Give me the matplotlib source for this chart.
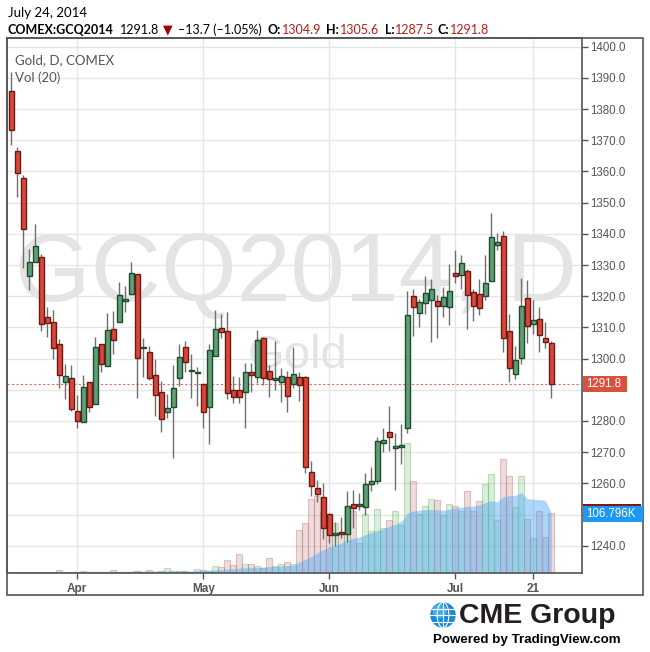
import matplotlib
matplotlib.use("Agg")
import matplotlib.pyplot as plt
from matplotlib.patches import Rectangle, Circle, Ellipse
import numpy as np

plt.rcParams['font.family'] = ['Liberation Sans', 'DejaVu Sans']

# daily OHLC, GCQ2014, Mar 17 .. Jul 24 2014
opens = [1385.9, 1366.4, 1357.8, 1326.4, 1330.9, 1332.5, 1313.2, 1311.6, 1304.6, 1292.4,
         1293.7, 1283.1, 1279.6, 1292.6, 1285.4, 1304.6, 1297.5, 1309.4, 1311.6, 1318.4,
         1320.6, 1327.0, 1303.3, 1302.0, 1294.6, 1289.2, 1283.0, 1284.4, 1293.7, 1303.6,
         1296.1, 1295.3, 1291.8, 1284.4, 1300.7, 1309.7, 1308.8, 1289.8, 1289.8, 1289.2,
         1295.6, 1294.0, 1306.5, 1295.9, 1293.0, 1292.4, 1294.0, 1291.8, 1294.0, 1294.0,
         1263.6, 1258.4, 1255.5, 1250.1, 1243.6, 1244.3, 1243.7, 1253.3, 1252.7, 1252.3,
         1259.7, 1260.7, 1272.9, 1276.4, 1271.5, 1271.6, 1277.7, 1320.0, 1314.5, 1317.7,
         1318.7, 1318.4, 1316.8, 1316.4, 1327.3, 1326.7, 1328.0, 1321.3, 1320.6, 1320.0,
         1324.8, 1336.3, 1339.2, 1308.8, 1295.0, 1300.1, 1319.3, 1311.0, 1312.6, 1306.5,
         1304.9]
highs = [1391.9, 1367.7, 1358.8, 1335.0, 1343.1, 1333.4, 1316.4, 1315.6, 1306.2, 1298.3,
         1297.9, 1288.3, 1294.7, 1292.6, 1307.0, 1304.6, 1314.5, 1315.2, 1324.5, 1323.2,
         1330.9, 1327.0, 1306.5, 1304.0, 1299.9, 1292.8, 1288.7, 1297.9, 1304.6, 1305.6,
         1301.5, 1297.3, 1291.8, 1304.6, 1315.5, 1314.2, 1314.8, 1294.3, 1294.0, 1298.5,
         1298.5, 1309.1, 1306.8, 1297.9, 1305.6, 1296.9, 1295.9, 1303.6, 1295.6, 1294.3,
         1267.1, 1261.0, 1260.0, 1250.4, 1247.5, 1249.1, 1257.5, 1257.8, 1256.8, 1263.2,
         1265.2, 1274.8, 1277.7, 1284.7, 1276.1, 1278.9, 1321.6, 1322.2, 1319.1, 1326.5,
         1325.5, 1320.3, 1322.9, 1330.3, 1334.8, 1333.2, 1328.6, 1322.2, 1325.4, 1333.1,
         1346.6, 1340.2, 1340.8, 1314.2, 1303.9, 1325.7, 1325.1, 1318.7, 1316.4, 1311.6,
         1305.6]
lows = [1368.5, 1351.9, 1329.1, 1322.0, 1330.9, 1308.9, 1307.0, 1299.8, 1290.5, 1287.0,
        1283.3, 1277.9, 1279.6, 1282.8, 1285.4, 1295.8, 1297.5, 1301.4, 1311.6, 1314.8,
        1320.6, 1287.3, 1294.2, 1293.0, 1281.7, 1276.6, 1281.1, 1268.2, 1291.3, 1295.6,
        1287.5, 1284.9, 1277.9, 1272.7, 1300.7, 1306.5, 1287.0, 1285.7, 1285.7, 1277.9,
        1289.2, 1292.1, 1291.4, 1287.8, 1289.8, 1286.0, 1283.0, 1290.5, 1286.5, 1263.2,
        1255.9, 1253.9, 1242.1, 1240.8, 1239.8, 1242.4, 1241.2, 1245.6, 1251.4, 1249.8,
        1257.5, 1259.7, 1270.0, 1270.3, 1257.8, 1266.1, 1276.1, 1307.1, 1310.2, 1314.2,
        1305.4, 1306.7, 1313.2, 1310.9, 1324.1, 1322.2, 1309.4, 1312.0, 1313.9, 1318.7,
        1324.8, 1334.7, 1302.0, 1292.4, 1293.4, 1298.2, 1304.9, 1307.8, 1302.0, 1303.3,
        1287.5]
closes = [1373.3, 1359.4, 1341.4, 1330.9, 1336.0, 1311.0, 1311.3, 1303.3, 1294.6, 1294.3,
          1283.8, 1279.9, 1290.8, 1284.4, 1303.6, 1298.2, 1309.1, 1305.9, 1320.3, 1319.0,
          1327.3, 1300.1, 1303.4, 1293.7, 1288.2, 1280.5, 1284.1, 1290.5, 1300.4, 1298.8,
          1296.3, 1295.6, 1283.0, 1302.7, 1309.4, 1308.4, 1288.9, 1287.6, 1287.6, 1295.6,
          1294.6, 1305.9, 1293.7, 1293.4, 1293.7, 1294.3, 1287.9, 1295.0, 1291.4, 1265.2,
          1259.1, 1256.5, 1245.6, 1243.4, 1243.9, 1243.7, 1252.7, 1252.0, 1253.3, 1259.7,
          1260.7, 1273.5, 1273.8, 1274.8, 1271.7, 1272.2, 1313.9, 1316.4, 1318.0, 1320.9,
          1322.2, 1316.8, 1319.6, 1321.6, 1326.4, 1330.5, 1320.3, 1316.8, 1316.1, 1324.1,
          1338.9, 1337.3, 1306.5, 1296.9, 1299.5, 1316.8, 1310.4, 1312.3, 1307.5, 1305.2,
          1291.8]

# volume in thousands of contracts, and the Vol(20) average line
volume = [1.8, 2.3, 2.3, 2.3, 2.3, 2.3, 2.3, 2.3, 4.8, 1.8,
          1.8, 1.8, 3.0, 1.8, 2.3, 2.3, 2.3, 5.9, 2.3, 1.8,
          2.3, 3.0, 1.8, 5.9, 2.3, 3.0, 9.4, 4.1, 3.0, 4.1,
          2.3, 7.7, 5.3, 3.6, 13.0, 10.7, 23.7, 14.8, 34.4, 16.6,
          16.6, 11.9, 8.4, 26.2, 13.0, 15.5, 19.0, 16.6, 76.0, 88.5,
          131.2, 136.5, 110.4, 85.4, 89.0, 71.2, 118.7, 109.8, 52.9, 104.5,
          74.2, 114.6, 80.8, 95.1, 109.8, 84.9, 232.1, 164.5, 105.7, 120.0,
          132.4, 130.7, 102.7, 123.5, 118.7, 111.1, 145.4, 109.8, 127.6, 159.1,
          175.7, 95.1, 203.6, 172.1, 116.9, 172.1, 96.8, 63.0, 109.8, 64.8,
          106.3]
vol_ma = [2.5, 2.5, 2.5, 2.5, 2.5, 2.5, 2.5, 2.5, 2.5, 2.5,
          2.8, 2.8, 2.8, 2.8, 2.8, 2.8, 2.8, 2.8, 2.8, 2.8,
          3.6, 3.6, 3.6, 3.6, 3.6, 3.6, 3.6, 3.6, 3.6, 3.6,
          3.9, 4.3, 4.6, 5.0, 5.5, 6.0, 6.9, 7.5, 8.7, 9.3,
          10.0, 10.3, 10.5, 11.6, 11.9, 12.5, 13.2, 13.7, 19.6, 24.4,
          29.7, 35.6, 41.5, 46.3, 49.8, 53.4, 58.2, 62.3, 64.1, 68.2,
          71.7, 75.5, 78.9, 83.1, 86.7, 92.0, 106.8, 110.4, 111.6, 112.7,
          112.7, 112.7, 111.6, 113.4, 115.7, 116.9, 118.7, 119.3, 121.0, 125.1,
          128.7, 126.9, 135.3, 137.6, 138.3, 142.9, 132.3, 131.2, 130.5, 129.4,
          106.8]

tick_idx = [11, 32, 53, 74, 87]
tick_labels = ["Apr", "May", "Jun", "Jul", "21"]
price_ticks = list(range(1240, 1410, 10))
hidden_ticks = [1250, 1290]  # covered by the volume / last price labels
last_price = 1291.8
vol_label = "106.796K"

W, H = 650, 652
fig = plt.figure(figsize=(W / 100, H / 100), dpi=100)
fig.patch.set_facecolor("white")


def fx(x):
    return x / W


def fy(y):
    return 1 - y / H


rect = [fx(7), fy(573), fx(582) - fx(7), fy(38) - fy(573)]
xlim = (-0.72, 95.12)
plim = (1231.28, 1402.76)

# bottom layer: grid + watermark
ax_g = fig.add_axes(rect)
ax_g.set_xlim(xlim)
ax_g.set_ylim(plim)
for p in price_ticks:
    ax_g.axhline(p, color="#e6e6e6", lw=1, zorder=0)
for t in tick_idx:
    ax_g.axvline(t, color="#e6e6e6", lw=1, zorder=0)
ax_g.text(0.502, 0.555, "GCQ2014, D", transform=ax_g.transAxes, ha="center", va="center",
          fontsize=70, color="#e4e4e4", zorder=1)
ax_g.text(0.505, 0.405, "Gold", transform=ax_g.transAxes, ha="center", va="center",
          fontsize=34, color="#e4e4e4", zorder=1)
ax_g.axis("off")

# middle layer: volume
x = np.arange(len(closes))
up = np.array(closes) >= np.array(opens)
ax_v = fig.add_axes(rect)
ax_v.patch.set_alpha(0)
ax_v.set_xlim(xlim)
ax_v.set_ylim(0, 952)
ax_v.bar(x[up], np.array(volume)[up], width=1.0, color="#8fc88f", alpha=0.32,
         edgecolor="#5aa05a", linewidth=0.8)
ax_v.bar(x[~up], np.array(volume)[~up], width=1.0, color="#c99494", alpha=0.32,
         edgecolor="#a06060", linewidth=0.8)
ax_v.fill_between(x, vol_ma, color="#4aa8f5", alpha=0.45, lw=0)
ax_v.axis("off")

# top layer: candles
ax = fig.add_axes(rect)
ax.patch.set_alpha(0)
ax.set_xlim(xlim)
ax.set_ylim(plim)
ax.vlines(x, lows, highs, color="#6f6f6f", lw=1, zorder=2)
o = np.array(opens)
c = np.array(closes)
bottoms = np.minimum(o, c)
heights = np.maximum(np.abs(c - o), 0.35)
ax.bar(x[up], heights[up], bottom=bottoms[up], width=0.74, color="#5f9f76",
       edgecolor="#1f4a2c", linewidth=1, zorder=3)
ax.bar(x[~up], heights[~up], bottom=bottoms[~up], width=0.74, color="#d9463a",
       edgecolor="#6a1a14", linewidth=1, zorder=3)
ax.axhline(last_price, color="#e8685a", lw=0.8, ls=(0, (2, 2)), zorder=1)

ax.yaxis.tick_right()
ax.set_yticks(price_ticks)
ax.set_yticklabels(["" if v in hidden_ticks else f"{v:.1f}" for v in price_ticks])
ax.set_xticks(tick_idx)
ax.set_xticklabels(tick_labels, fontweight="bold")
ax.tick_params(axis="y", length=4, width=1, color="#555555", labelsize=8.3,
               labelcolor="#555555", pad=2)
ax.tick_params(axis="x", length=4, width=1, color="#555555", labelsize=8.5,
               labelcolor="#555555", pad=3)
for s in ax.spines.values():
    s.set_color("#555555")
    s.set_linewidth(1.2)

# price / volume labels on the right scale
fig.patches.append(Rectangle((fx(583), fy(392)), fx(627) - fx(583), fy(376) - fy(392),
                             transform=fig.transFigure, fc="#d9503f", ec="none", zorder=9))
fig.text(fx(586), fy(384), f"{last_price:.1f}", ha="left", va="center", fontsize=8.3,
         color="white", zorder=10)
fig.patches.append(Rectangle((fx(583), fy(507)), fx(641) - fx(583), fy(504) - fy(507),
                             transform=fig.transFigure, fc="#7a1a10", ec="none", zorder=8))
fig.patches.append(Rectangle((fx(583), fy(522)), fx(643) - fx(583), fy(506) - fy(522),
                             transform=fig.transFigure, fc="#1e98f2", ec="none", zorder=9))
fig.text(fx(586), fy(514), vol_label, ha="left", va="center", fontsize=8.3, color="white",
         zorder=10)

# legend text in the pane
fig.text(fx(15), fy(60), "Gold, D, COMEX", fontsize=9.5, color="#555555", va="center",
         family=["Lato", "DejaVu Sans"])
fig.text(fx(15), fy(78), "Vol (20)", fontsize=9.5, color="#555555", va="center",
         family=["Lato", "DejaVu Sans"])

# outer frame
fig.patches.append(Rectangle((fx(7), fy(595)), fx(643) - fx(7), fy(38) - fy(595),
                             transform=fig.transFigure, fill=False, ec="#555555", lw=1.2))

# header
hf = ["Lato", "DejaVu Sans"]
fig.text(fx(8), fy(13), "July 24, 2014", fontsize=9.5, color="black", va="center", family=hf)
yh = fy(30)
red = "#b3201a"
parts = [
    (8, "COMEX:GCQ2014", "black", "bold"),
    (120, "1291.8", "black", "normal"),
    (178, "\u201313.7 (\u20131.05%)", "black", "normal"),
    (268, "O:", "black", "bold"),
    (282, "1304.9", red, "normal"),
    (326, "H:", "black", "bold"),
    (340, "1305.6", red, "normal"),
    (385, "L:", "black", "bold"),
    (395, "1287.5", red, "normal"),
    (438, "C:", "black", "bold"),
    (450, "1291.8", red, "normal"),
]
for px, s, col, w in parts:
    fig.text(fx(px), yh, s, fontsize=9, color=col, fontweight=w, va="center", family=hf)
fig.text(fx(163), yh, "\u25bc", fontsize=9, color="#a00000", va="center", family=["DejaVu Sans"])

# CME Group logo
ax_l = fig.add_axes([fx(430), fy(628), fx(456) - fx(430), fy(602) - fy(628)])
ax_l.set_xlim(-1, 1)
ax_l.set_ylim(-1, 1)
ax_l.set_aspect("equal")
ax_l.add_patch(Circle((0, 0), 0.98, fc="#1a8ad4", ec="none"))
ax_l.add_patch(Circle((-0.25, 0.3), 0.55, fc="#6cc3f0", ec="none", alpha=0.6))
for yy in (-0.5, 0, 0.5):
    ax_l.plot([-np.sqrt(1 - yy ** 2), np.sqrt(1 - yy ** 2)], [yy, yy], color="white", lw=0.8)
ax_l.add_patch(Ellipse((0, 0), 0.9, 1.96, fill=False, ec="white", lw=0.8))
ax_l.plot([0, 0], [-0.98, 0.98], color="white", lw=0.8)
ax_l.axis("off")

fig.text(fx(459), fy(616), "CME Group", fontsize=20.5, color="#231f20", va="center",
         fontweight="bold")
fig.text(fx(433), fy(640), "Powered by TradingView.com", fontsize=9.6, color="black",
         va="center", fontweight="bold")

fig.savefig("out.png", dpi=100)
